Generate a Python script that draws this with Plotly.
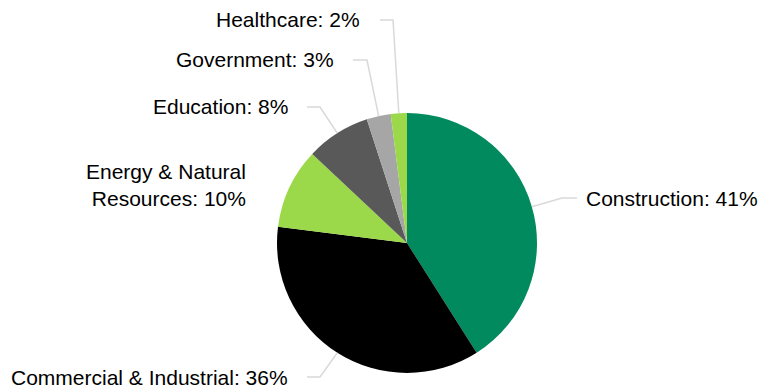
import math
import plotly.graph_objects as go

# Revenue share by sector
sectors = ["Construction", "Commercial & Industrial", "Energy & Natural<br>Resources",
           "Education", "Government", "Healthcare"]
shares = [41, 36, 10, 8, 3, 2]
colors = ["#008A5E", "#000000", "#9BD94A", "#595959", "#A6A6A6", "#9BD94A"]

# Layout (pixels): figure size, pie centre/radius, label anchors and elbow x for leader lines
W, H = 760, 389
CX, CY, R = 407, 243, 130
label_x = [584, 290, 248, 290, 336, 362]
label_y = [198, 377, 185, 107, 60, 20]
elbow_x = [562, 320, None, 320, 367, 393]
stub_end_x = [577, 307, None, 307, 353, 380]


def px(x):
    return x / W


def py(y):
    return 1 - y / H


fig = go.Figure(go.Pie(
    labels=sectors,
    values=shares,
    marker=dict(colors=colors, line=dict(width=0)),
    sort=False,
    direction="clockwise",
    rotation=0,
    textinfo="none",
    hoverinfo="label+percent",
    domain=dict(x=[px(CX - R), px(CX + R)], y=[py(CY + R), py(CY - R)]),
    showlegend=False,
))

total = sum(shares)
cum = 0
shapes = []
annotations = []
for i, (name, v) in enumerate(zip(sectors, shares)):
    mid = (cum + v / 2) / total * 2 * math.pi
    cum += v
    sx = CX + R * math.sin(mid)
    sy = CY - R * math.cos(mid)
    right_side = math.sin(mid) > 0
    if elbow_x[i] is not None:
        path = (f"M {px(sx)} {py(sy)} L {px(elbow_x[i])} {py(label_y[i])} "
                f"L {px(stub_end_x[i])} {py(label_y[i])}")
        shapes.append(dict(type="path", path=path, xref="paper", yref="paper",
                           line=dict(color="#D9D9D9", width=1.5)))
    annotations.append(dict(
        x=px(label_x[i]), y=py(label_y[i]), xref="paper", yref="paper",
        text=f"{name}: {v}%", showarrow=False,
        xanchor="left" if right_side else "right", yanchor="middle",
        align="left" if right_side else "right",
        font=dict(family="Liberation Sans, Arial, sans-serif", size=21, color="#000000"),
    ))

fig.update_layout(
    width=W, height=H,
    margin=dict(l=0, r=0, t=0, b=0),
    paper_bgcolor="white",
    plot_bgcolor="white",
    shapes=shapes,
    annotations=annotations,
)

fig.write_html("out.html")
